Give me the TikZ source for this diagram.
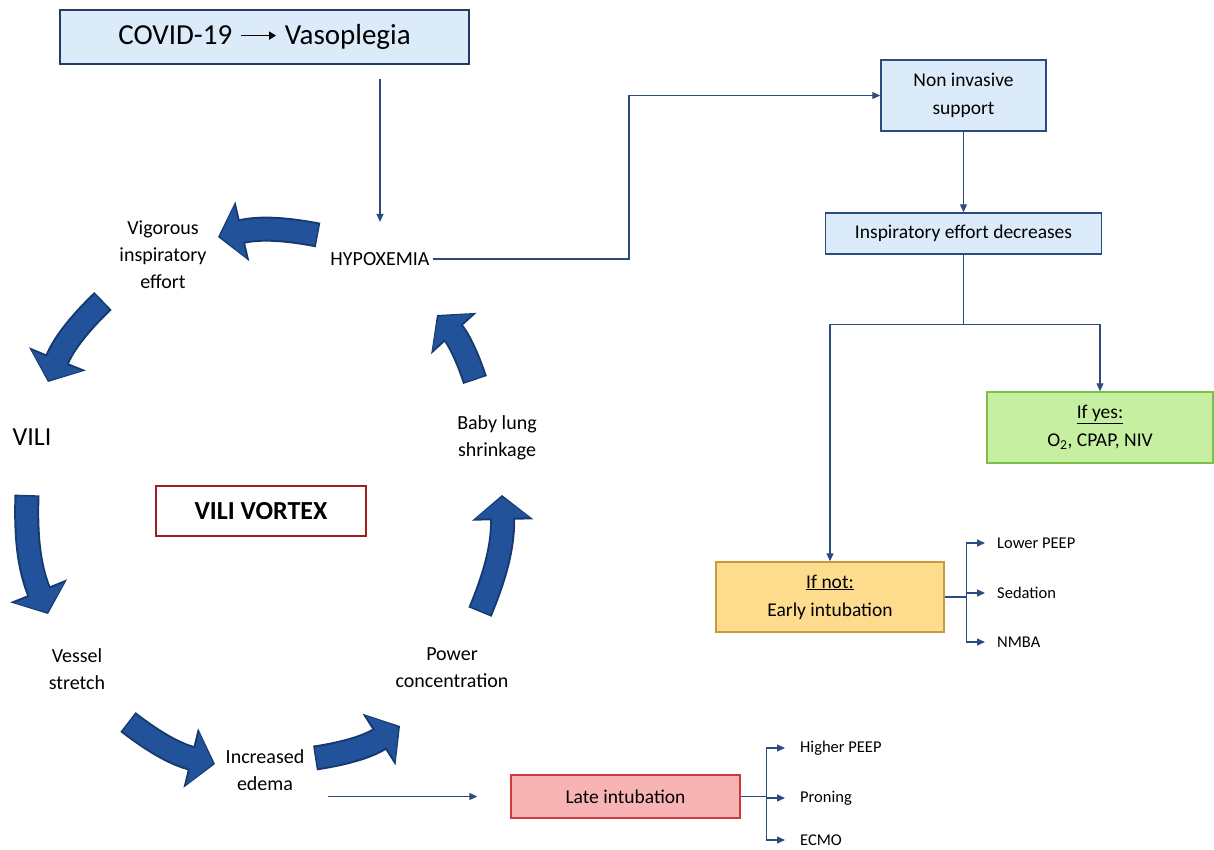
\documentclass[tikz,border=0pt]{standalone}
\usepackage{fontspec}
\setmainfont{Carlito}
\usetikzlibrary{arrows.meta}
\definecolor{navy}{HTML}{2B4C7E}
\definecolor{vortexblue}{HTML}{22539A}
\definecolor{vortexedge}{HTML}{163A70}
\definecolor{paleblue}{HTML}{DCEBFA}
\definecolor{palegreen}{HTML}{C6EFA2}
\definecolor{leafgreen}{HTML}{7CC04A}
\definecolor{paleyellow}{HTML}{FDDC8E}
\definecolor{ochre}{HTML}{C99A3C}
\definecolor{palered}{HTML}{F8B4B4}
\definecolor{brightred}{HTML}{D03A3A}
\definecolor{darkred}{HTML}{A01E1E}

\begin{document}
\begin{tikzpicture}[x = 1pt, y = -1pt,
    conn/.style = {draw = navy, line width = 1.2pt},
    arr/.style = {-{Triangle[length = 8pt, width = 7pt]}},
    fatedge/.style = {draw = vortexedge, line width = 25pt, -{Triangle[length = 25pt, width = 60pt]}},
    fat/.style = {draw = vortexblue, line width = 21pt, shorten <= 1.5pt, shorten >= 2pt,
                  -{Triangle[length = 21pt, width = 53pt]}},
    cyc/.style = {align = center, font = \fontsize{20}{27}\selectfont},
    box/.style = {rectangle, align = center, inner sep = 0pt, line width = 1.5pt, font = \fontsize{19.5}{28}\selectfont},
    lbl/.style = {anchor = west, inner sep = 4pt, font = \fontsize{16.5}{18}\selectfont}]
  \useasboundingbox (0,0) rectangle (1214,849);

  % the vortex
  \node [cyc] (hypox) at (380,259) {HYPOXEMIA};
  \node [cyc] (vigor) at (163,255) {Vigorous\\inspiratory\\effort};
  \node [cyc, font = \fontsize{26}{30}\selectfont] (vili) at (32,437) {VILI};
  \node [cyc] (vessel) at (77,669) {Vessel\\stretch};
  \node [cyc] (edema) at (265,770) {Increased\\edema};
  \node [cyc] (power) at (452,668) {Power\\concentration};
  \node [cyc] (baby) at (497,438) {Baby lung\\shrinkage};
  \node [box, draw = darkred, line width = 2pt, fill = white, minimum width = 210, minimum height = 50,
         font = \fontsize{26}{30}\selectfont\bfseries] (vortex) at (261,511) {VILI VORTEX};

  \foreach \xa/\ya/\xb/\yb in {318/235/218/237, 103/301/48/382, 27/495/48/614, 128/722/215/764,
                               315/758/400/726, 480/612/502/495, 475/380/437/315} {
    \draw [fatedge] (\xa,\ya) to [bend right = 12] (\xb,\yb);
    \draw [fat] (\xa,\ya) to [bend right = 12] (\xb,\yb);
  }

  % boxes
  \node [box, draw = navy!80!black, fill = paleblue, line width = 2pt, minimum width = 409, minimum height = 54,
         font = \fontsize{29}{32}\selectfont] (covid) at (264.5,37)
        {COVID-19\hspace{8pt}\tikz[baseline = -9pt] \draw [line width = 1.6pt, -{Triangle[length = 7pt, width = 8pt]}] (0pt,0pt) -- (35pt,0pt);\hspace{8pt}Vasoplegia};
  \node [box, draw = navy, fill = paleblue, minimum width = 165, minimum height = 71] (nis) at (963.5,95.5) {Non invasive\\support};
  \node [box, draw = navy, fill = paleblue, minimum width = 276, minimum height = 41] (ied) at (963.5,233.5) {Inspiratory effort decreases};
  \node [box, draw = leafgreen, fill = palegreen, minimum width = 226, minimum height = 71] (yes) at (1100,427.5)
        {\underline{If yes:}\\O\textsubscript{2}, CPAP, NIV};
  \node [box, draw = ochre, fill = paleyellow, minimum width = 228, minimum height = 70] (not) at (830,597)
        {\underline{If not:}\\Early intubation};
  \node [box, draw = brightred, fill = palered, minimum width = 229, minimum height = 43] (late) at (625.5,796.5) {Late intubation};

  \node [lbl] (lpeep) at (993,543) {Lower PEEP};
  \node [lbl] (sed) at (993,593) {Sedation};
  \node [lbl] (nmba) at (993,642) {NMBA};
  \node [lbl] (hpeep) at (796,748) {Higher PEEP};
  \node [lbl] (prone) at (796,798) {Proning};
  \node [lbl] (ecmo) at (796,840) {ECMO};

  % connectors
  \draw [conn, arr, shorten <= 14pt, shorten >= 27pt] (covid.south -| hypox.north) -- (hypox.north);
  \draw [conn, arr] (hypox.east) -- ++(196,0) |- (nis.west);
  \draw [conn, arr] (nis.south) -- (ied.north);
  \draw [conn] (ied.south) -- ++(0,70) coordinate (split);
  \draw [conn, arr] (split) -| (not.north);
  \draw [conn, arr] (split) -| (yes.north);
  \draw [conn] (not.east) -- ++(22,0) coordinate (nb);
  \foreach \n in {lpeep, sed, nmba}
    \draw [conn, arr] (nb) |- ([xshift = -8pt]\n.west);
  \draw [conn, arr, shorten <= 20pt, shorten >= 33pt] (edema.east |- late.west) -- (late.west);
  \draw [conn] (late.east) -- ++(26,0) coordinate (lb);
  \foreach \n in {hpeep, prone, ecmo}
    \draw [conn, arr] (lb) |- ([xshift = -11pt]\n.west);
\end{tikzpicture}
\end{document}
